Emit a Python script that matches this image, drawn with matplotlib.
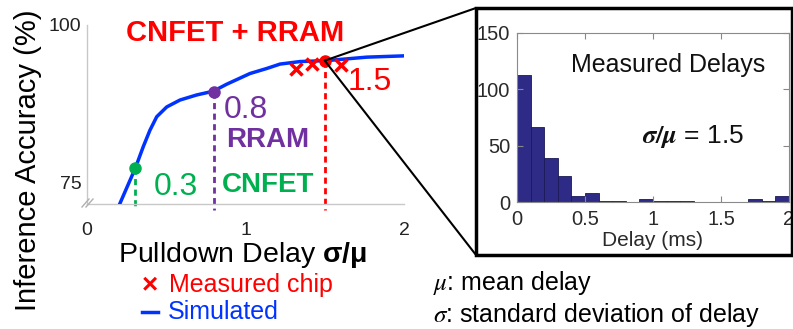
import numpy as np
import matplotlib
matplotlib.use("Agg")
import matplotlib.pyplot as plt
from matplotlib.patches import Rectangle, ConnectionPatch
from matplotlib.lines import Line2D

plt.rcParams["font.family"] = ["Liberation Sans", "DejaVu Sans"]
plt.rcParams["mathtext.fontset"] = "custom"
plt.rcParams["mathtext.rm"] = "Liberation Sans"
plt.rcParams["mathtext.bf"] = "Liberation Sans:bold"
plt.rcParams["mathtext.it"] = "Liberation Sans:italic"

# ── Data ─────────────────────────────────────────────────────────────────────
sim_x = [0.208, 0.305, 0.355, 0.397, 0.44, 0.503, 0.587, 0.692, 0.797,
         0.881, 1.028, 1.134, 1.218, 1.344, 1.512, 1.765, 1.996]
sim_y = [71.7, 77.3, 80.7, 83.3, 85.45, 87.0, 88.1, 88.9, 89.5,
         90.6, 92.3, 93.1, 93.8, 94.2, 94.35, 94.9, 95.1]

meas_x = [1.32, 1.42, 1.60]
meas_y = [93.0, 93.8, 93.65]

mark_x = [0.3, 0.8, 1.5]
mark_y = [77.3, 89.3, 94.35]
mark_labels = ["0.3", "0.8", "1.5"]

hist_edges = np.round(np.arange(0, 2.01, 0.1), 2)
hist_counts = [113, 67, 39, 23, 5, 8, 1, 1, 0, 3,
               1, 1, 1, 0, 0, 0, 0, 3, 1, 5]

GREEN = "#00b050"
PURPLE = "#7030a0"
RED = "#ff0000"
BLUE = "#0033ff"

W, H = 793, 329


def px(x, y):
    return x / W, 1 - y / H


fig = plt.figure(figsize=(W / 100, H / 100), dpi=100)

# ── Left: accuracy vs sigma/mu ──────────────────────────────────────────────
ax = fig.add_axes([87 / W, 1 - 204 / H, 317 / W, 179 / H])
ax.set_xlim(0, 2)
ax.set_ylim(71.6, 100)
for s in ("top", "right"):
    ax.spines[s].set_visible(False)
for s in ("left", "bottom"):
    ax.spines[s].set_color("#c8c8c8")
    ax.spines[s].set_linewidth(1)
ax.set_xticks([0, 1, 2])
ax.set_yticks([75, 100])
ax.tick_params(axis="both", length=0, labelsize=14, colors="#222222")
ax.tick_params(axis="x", pad=13)
ax.tick_params(axis="y", pad=4)

ax.plot(sim_x, sim_y, color=BLUE, lw=2.5, zorder=3, solid_joinstyle="round")
ax.plot(meas_x, meas_y, ls="none", marker="x", color=RED, ms=9, mew=2.5,
        zorder=4)

colors = [GREEN, PURPLE, RED]
for x, y, c in zip(mark_x, mark_y, colors):
    ax.plot([x, x], [y, 70.65], ls=(0, (2.2, 1.6)), color=c, lw=2,
            clip_on=False, zorder=2)
    ax.plot(x, y, marker="o", color=c, ms=8, zorder=5, clip_on=False)

ax.text(1.645, 91.0, mark_labels[2], color=RED, fontsize=23, va="center")
ax.text(0.86, 86.5, mark_labels[1], color=PURPLE, fontsize=23, va="center")
ax.text(0.418, 74.35, mark_labels[0], color=GREEN, fontsize=23, va="center")
ax.text(0.88, 81.75, "RRAM", color=PURPLE, fontsize=20, fontweight="bold",
        va="center")
ax.text(0.85, 74.6, "CNFET", color=GREEN, fontsize=20, fontweight="bold",
        va="center")
fig.text(*px(235, 33), "CNFET + RRAM", color=RED, fontsize=21,
         fontweight="bold", ha="center", va="center")

# axis break marks
for dx in (0, 4):
    fig.add_artist(Line2D([(82 + dx) / W, (89 + dx) / W],
                          [1 - 207 / H, 1 - 199 / H], color="#b0b0b0", lw=1))

fig.text(*px(243, 255), r"Pulldown Delay $\mathbf{\sigma/\mu}$", fontsize=20.5,
         ha="center", va="center")
fig.text(*px(28, 160), "Inference Accuracy (%)", fontsize=21, rotation=90,
         ha="center", va="center")

# hand-made legend
fig.text(*px(150, 285), "×", color=RED, fontsize=20, fontweight="bold",
         ha="center", va="center")
fig.text(*px(169, 285), "Measured chip", color=RED, fontsize=18, va="center")
fig.add_artist(Line2D([142 / W, 158 / W], [1 - 312 / H, 1 - 312 / H],
                      color=BLUE, lw=2.5))
fig.text(*px(168, 312), "Simulated", color=BLUE, fontsize=18, va="center")

# ── Right: measured delay histogram ─────────────────────────────────────────
hax = fig.add_axes([517 / W, 1 - 202 / H, 272 / W, 169 / H])
hax.bar(hist_edges[:-1], hist_counts, width=0.1, align="edge",
        color="#2e2b87", edgecolor="#1c1a55", lw=0.6)
hax.set_xlim(0, 2)
hax.set_ylim(0, 150)
hax.set_xticks([0, 0.5, 1, 1.5, 2])
hax.set_xticklabels(["0", "0.5", "1", "1.5", "2"])
hax.set_yticks([0, 50, 100, 150])
hax.tick_params(direction="in", top=True, right=True, length=4,
                labelsize=14.5, colors="#888888", labelcolor="#2a2a2a")
hax.tick_params(axis="x", pad=6)
hax.tick_params(axis="y", pad=5)
for s in hax.spines.values():
    s.set_color("#8a8a8a")
    s.set_linewidth(0.8)

fig.text(*px(653, 240), "Delay (ms)", fontsize=15, color="#2a2a2a",
         ha="center", va="center")
fig.text(*px(668, 65), "Measured Delays", fontsize=18, color="#111111",
         ha="center", va="center")
fig.text(*px(693, 137), r"$\boldsymbol{\sigma/\mu}$ = 1.5", fontsize=19,
         color="#111111", ha="center", va="center", math_fontfamily="stix")

# outer frame of the inset and the zoom lines
fig.add_artist(Rectangle(px(476, 255), (792 - 476) / W, (255 - 8) / H,
                         transform=fig.transFigure, fill=False, lw=2.5,
                         ec="black"))
for yb in (8, 255):
    fig.add_artist(ConnectionPatch(xyA=(mark_x[2], mark_y[2]), coordsA="data",
                                   axesA=ax, xyB=px(476, yb),
                                   coordsB="figure fraction", color="black",
                                   lw=1.5))

fig.text(*px(433, 283), r"$\mu$: mean delay", fontsize=18, va="center",
         math_fontfamily="stix")
fig.text(*px(433, 315), r"$\sigma$: standard deviation of delay", fontsize=18,
         va="center", math_fontfamily="stix")

fig.savefig("out.png", dpi=100)
